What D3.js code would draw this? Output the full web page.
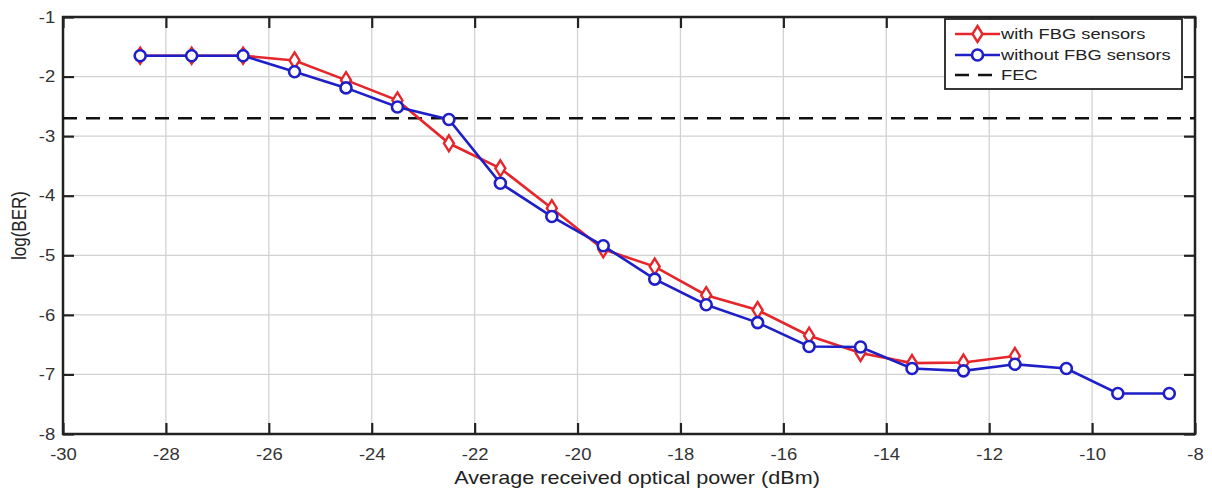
<!DOCTYPE html>
<html><head><meta charset="utf-8">
<script src="https://cdn.jsdelivr.net/npm/d3@7"></script>
<style>body{margin:0;background:#fff;} text{font-family:"Liberation Sans",Arial,sans-serif;}</style>
</head><body><svg id="c" width="1212" height="489"></svg>
<script>
const xPower = [-28.5,-27.5,-26.5,-25.5,-24.5,-23.5,-22.5,-21.5,-20.5,-19.5,-18.5,-17.5,-16.5,-15.5,-14.5,-13.5,-12.5,-11.5,-10.5,-9.5,-8.5];
const withFBG = [-1.65,-1.65,-1.65,-1.73,-2.06,-2.40,-3.12,-3.54,-4.21,-4.90,-5.19,-5.67,-5.92,-6.35,-6.64,-6.81,-6.80,-6.69];
const withoutFBG = [-1.65,-1.65,-1.65,-1.92,-2.19,-2.51,-2.72,-3.79,-4.35,-4.84,-5.40,-5.83,-6.13,-6.53,-6.54,-6.90,-6.94,-6.83,-6.90,-7.32,-7.32];
const fecLevel = -2.7;
const xTicks = [-30,-28,-26,-24,-22,-20,-18,-16,-14,-12,-10,-8];
const yTicks = [-1,-2,-3,-4,-5,-6,-7,-8];
const seriesNames = ["with FBG sensors","without FBG sensors","FEC"];

const svg = d3.select("#c");
const L=63,R=1195,T=17,B=434;
const x = d3.scaleLinear().domain([-30,-8]).range([L,R]);
const y = d3.scaleLinear().domain([-8,-1]).range([B,T]);
const red="#e5262b", blue="#1f1fc8";
const fmt = d=>String(d);

// grid
svg.append("g").selectAll("line").data(xTicks.slice(1,-1)).join("line")
  .attr("x1",d=>x(d)).attr("x2",d=>x(d)).attr("y1",T).attr("y2",B)
  .attr("stroke","#d2d2d2").attr("stroke-width",1.3);
svg.append("g").selectAll("line").data(yTicks.slice(1,-1)).join("line")
  .attr("y1",d=>y(d)).attr("y2",d=>y(d)).attr("x1",L).attr("x2",R)
  .attr("stroke","#d2d2d2").attr("stroke-width",1.3);

// axes with inward ticks
const tl=11;
const gBottom = svg.append("g").attr("transform",`translate(0,${B})`)
  .call(d3.axisBottom(x).tickValues(xTicks).tickSize(-tl).tickPadding(14).tickFormat(fmt));
const gTop = svg.append("g").attr("transform",`translate(0,${T})`)
  .call(d3.axisTop(x).tickValues(xTicks).tickSize(-tl).tickFormat(""));
const gLeft = svg.append("g").attr("transform",`translate(${L},0)`)
  .call(d3.axisLeft(y).tickValues(yTicks).tickSize(-tl).tickPadding(7).tickFormat(fmt));
const gRight = svg.append("g").attr("transform",`translate(${R},0)`)
  .call(d3.axisRight(y).tickValues(yTicks).tickSize(-tl).tickFormat(""));
[gBottom,gTop,gLeft,gRight].forEach(g=>{
  g.select(".domain").remove();
  g.selectAll(".tick line").attr("stroke","#222").attr("stroke-width",2.2);
  g.selectAll(".tick text").attr("fill","#333").attr("font-size",16.5).attr("font-family","Liberation Sans, Arial, sans-serif");
});
gBottom.selectAll(".tick text").attr("transform","scale(1.12,1)");
gLeft.selectAll(".tick text").attr("transform","scale(1.12,1)");
svg.append("rect").attr("x",L).attr("y",T).attr("width",R-L).attr("height",B-T)
  .attr("fill","none").attr("stroke","#222").attr("stroke-width",2.5);

// FEC
svg.append("line").attr("x1",L).attr("x2",R).attr("y1",y(fecLevel)).attr("y2",y(fecLevel))
  .attr("stroke","#111").attr("stroke-width",2.6).attr("stroke-dasharray","14,9");

const line = d3.line().x(d=>x(d[0])).y(d=>y(d[1]));
const redData = withFBG.map((v,i)=>[xPower[i],v]);
const blueData = withoutFBG.map((v,i)=>[xPower[i],v]);
const diamond = "M0,-8L5,0L0,8L-5,0Z";

svg.append("path").datum(redData).attr("d",line).attr("fill","none").attr("stroke",red).attr("stroke-width",2.6);
svg.append("g").selectAll("path").data(redData).join("path")
  .attr("transform",d=>`translate(${x(d[0])},${y(d[1])})`).attr("d",diamond)
  .attr("fill","#fff").attr("stroke",red).attr("stroke-width",2.4);
svg.append("path").datum(blueData).attr("d",line).attr("fill","none").attr("stroke",blue).attr("stroke-width",2.6);
svg.append("g").selectAll("circle").data(blueData).join("circle")
  .attr("cx",d=>x(d[0])).attr("cy",d=>y(d[1])).attr("r",5.5)
  .attr("fill","#fff").attr("stroke",blue).attr("stroke-width",2.6);

// legend
const lg = svg.append("g");
lg.append("rect").attr("x",945).attr("y",19).attr("width",237).attr("height",70)
  .attr("fill","#fff").attr("stroke","#222").attr("stroke-width",1.8);
const ly=[34,55,75];
const lx1=955, lx2=1000;
lg.append("line").attr("x1",lx1).attr("x2",lx2).attr("y1",ly[0]).attr("y2",ly[0]).attr("stroke",red).attr("stroke-width",2.6);
lg.append("path").attr("transform",`translate(${(lx1+lx2)/2},${ly[0]})`).attr("d",diamond).attr("fill","#fff").attr("stroke",red).attr("stroke-width",2.4);
lg.append("line").attr("x1",lx1).attr("x2",lx2).attr("y1",ly[1]).attr("y2",ly[1]).attr("stroke",blue).attr("stroke-width",2.6);
lg.append("circle").attr("cx",(lx1+lx2)/2).attr("cy",ly[1]).attr("r",5.5).attr("fill","#fff").attr("stroke",blue).attr("stroke-width",2.6);
lg.append("line").attr("x1",lx1).attr("x2",lx2).attr("y1",ly[2]).attr("y2",ly[2]).attr("stroke","#111").attr("stroke-width",2.6).attr("stroke-dasharray","14,9");
lg.selectAll("text").data(seriesNames).join("text")
  .attr("transform",(d,i)=>`translate(1001,${ly[i]}) scale(1.22,1)`)
  .attr("dy","0.35em").attr("font-size",15).attr("fill","#222").text(d=>d);

// axis titles
svg.append("text").attr("transform",`translate(${(L+R)/2+8},484) scale(1.2,1)`).attr("text-anchor","middle").attr("font-size",18).attr("fill","#222")
  .text("Average received optical power (dBm)");
svg.append("text").attr("transform",`translate(26,${(T+B)/2}) scale(1.2,1) rotate(-90)`).attr("text-anchor","middle").attr("font-size",17).attr("fill","#222")
  .text("log(BER)");
</script></body></html>
